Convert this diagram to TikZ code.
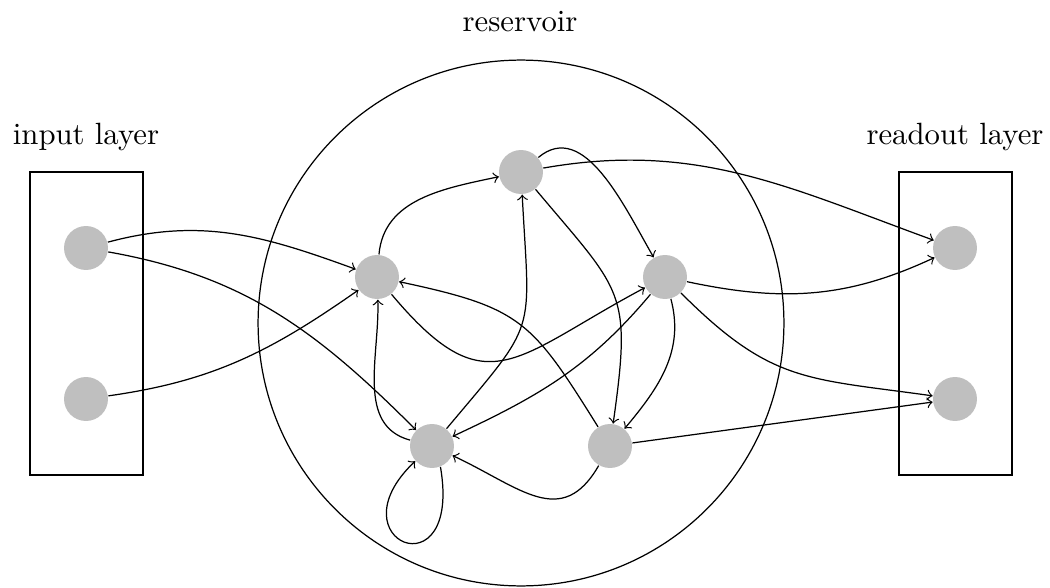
\documentclass[tikz,border=0pt]{standalone}
\usetikzlibrary{arrows}
\begin{document}
\begin{tikzpicture}[x=0.3252pt,y=-0.3252pt,
  neuron/.style={circle,fill=lightgray,minimum size=14.3pt,inner sep=0pt},
  layerbox/.style={draw,rectangle,minimum width=36.75pt,minimum height=98.5pt,inner sep=0pt},
  title/.style={anchor=base,inner sep=0pt},
  link/.style={->}]
\useasboundingbox (0,0) rectangle (1050,588);

% containers
\node[layerbox] (inbox) at (86.5,323.5) {};
\node[layerbox] (outbox) at (955.5,323.5) {};
\node[draw,circle,minimum size=171pt,inner sep=0pt] (res) at (521,323) {};

% titles
\node[title] (tin) at (86,144) {input layer};
\node[title] (tres) at (520,32) {reservoir};
\node[title] (tout) at (955,144) {readout layer};

% neurons
\node[neuron] (in1) at (86,248) {};
\node[neuron] (in2) at (86,399) {};
\node[neuron] (out1) at (955,248) {};
\node[neuron] (out2) at (955,399) {};
\node[neuron] (A) at (377,277) {};
\node[neuron] (B) at (521,172) {};
\node[neuron] (C) at (665,277) {};
\node[neuron] (D) at (432,446) {};
\node[neuron] (E) at (610,446) {};

% input connections
\draw[link] (in1) to[out=15,in=160] (A);
\draw[link] (in1) to[out=-10,in=135] (D);
\draw[link] (in2) to[out=8,in=215] (A);

% reservoir connections
\draw[link] (A) to[out=85,in=192] (B);
\draw[link] (B) to[out=40,in=120] (C);
\draw[link] (B) to[out=-50,in=82,looseness=1.4] (E);
\draw[link] (D) to[out=50,in=-87,looseness=1.5] (B);
\draw[link] (E) to[out=122,in=-12,looseness=1.3] (A);
\draw[link] (A) to[out=-50,in=208,looseness=1.5] (C);
\draw[link] (C) to[out=-130,in=25] (D);
\draw[link] (C) to[out=-75,in=50] (E);
\draw[link] (D) to[out=165,in=-88] (A);
\draw[link] (E) to[out=-120,in=-25,looseness=1.3] (D);
\draw[link] (D.-68) .. controls +(22,128) and +(-84,80) .. (D.-138);

% readout connections
\draw[link] (B) to[out=10,in=160] (out1);
\draw[link] (C) to[out=-12,in=205] (out1);
\draw[link] (C) to[out=-45,in=172,looseness=1.2] (out2);
\draw[link] (E) -- (out2);
\end{tikzpicture}
\end{document}
